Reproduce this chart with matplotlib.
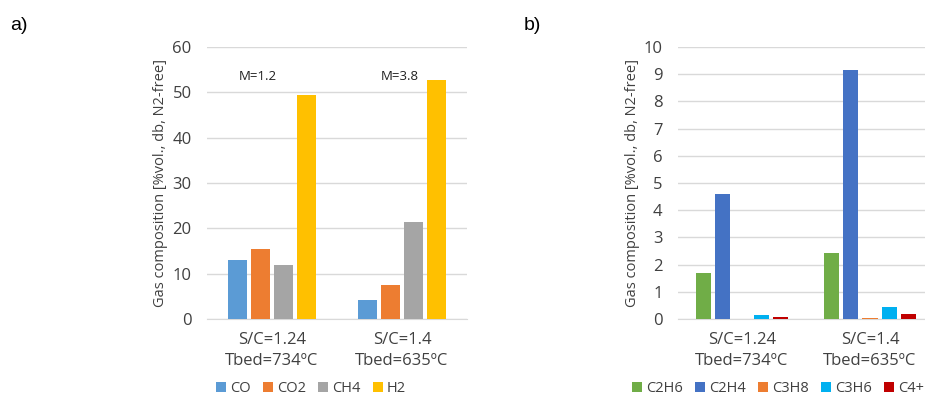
import numpy as np
import matplotlib.pyplot as plt

plt.rcParams['font.family'] = ['Open Sans', 'DejaVu Sans']

# data
groups = ['S/C=1.24\nTbed=734ºC', 'S/C=1.4\nTbed=635ºC']
gas_a = ['CO', 'CO2', 'CH4', 'H2']
vals_a = [[13.0, 4.3], [15.5, 7.6], [11.9, 21.4], [49.5, 52.8]]
cols_a = ['#5B9BD5', '#ED7D31', '#A5A5A5', '#FFC000']
notes_a = ['M=1.2', 'M=3.8']
notes_x = [-0.11, 0.985]

gas_b = ['C2H6', 'C2H4', 'C3H8', 'C3H6', 'C4+']
vals_b = [[1.70, 2.42], [4.58, 9.17], [0.0, 0.04], [0.13, 0.44], [0.06, 0.20]]
cols_b = ['#70AD47', '#4472C4', '#ED7D31', '#00B0F0', '#C00000']

fig = plt.figure(figsize=(9.25, 3.98), dpi=100)
ax1 = fig.add_axes([207/925, 1-319/398, 260/925, 272/398])
ax2 = fig.add_axes([678/925, 1-319/398, 256/925, 272/398])


def draw(ax, names, vals, cols, ymax, step, slot, width, lx):
    x = np.arange(len(groups))
    n = len(names)
    for i, (nm, v, c) in enumerate(zip(names, vals, cols)):
        off = (i - (n - 1) / 2) * slot
        ax.bar(x + off, v, width, color=c, label=nm, zorder=3)
    ax.set_xlim(-0.5, len(groups) - 0.5)
    ax.set_ylim(0, ymax)
    ax.set_yticks(np.arange(0, ymax + step / 2, step))
    ax.set_xticks(x)
    ax.set_xticklabels(groups, fontsize=12, color='#404040', linespacing=1.45)
    ax.tick_params(length=0, labelsize=12, colors='#404040')
    ax.tick_params(axis='x', pad=9)
    ax.tick_params(axis='y', pad=11)
    ax.grid(axis='y', color='#D9D9D9', lw=1, zorder=0)
    for s in ['top', 'right', 'left']:
        ax.spines[s].set_visible(False)
    ax.spines['bottom'].set_color('#D9D9D9')
    ax.set_ylabel('Gas composition [%vol., db, N2-free]', fontsize=10.5, color='#404040', labelpad=3)
    ax.legend(loc='center', bbox_to_anchor=(lx, -0.255), ncol=n, frameon=False,
              fontsize=10.5, handlelength=0.7, handleheight=0.7, handletextpad=0.3,
              columnspacing=0.8, borderpad=0.2, labelcolor='#404040')


draw(ax1, gas_a, vals_a, cols_a, 60, 10, 0.177, 0.146, 0.40)
draw(ax2, gas_b, vals_b, cols_b, 10, 1, 0.152, 0.118, 0.39)

for t, xp in zip(notes_a, notes_x):
    ax1.text(xp, 53.5, t, fontsize=9.5, ha='center', va='center', color='#202020')

fig.text(10/925, 1-26/398, 'a)', fontsize=14, family='Liberation Sans', va='center')
fig.text(524/925, 1-26/398, 'b)', fontsize=14, family='Liberation Sans', va='center')

fig.savefig('out.png', dpi=100)
